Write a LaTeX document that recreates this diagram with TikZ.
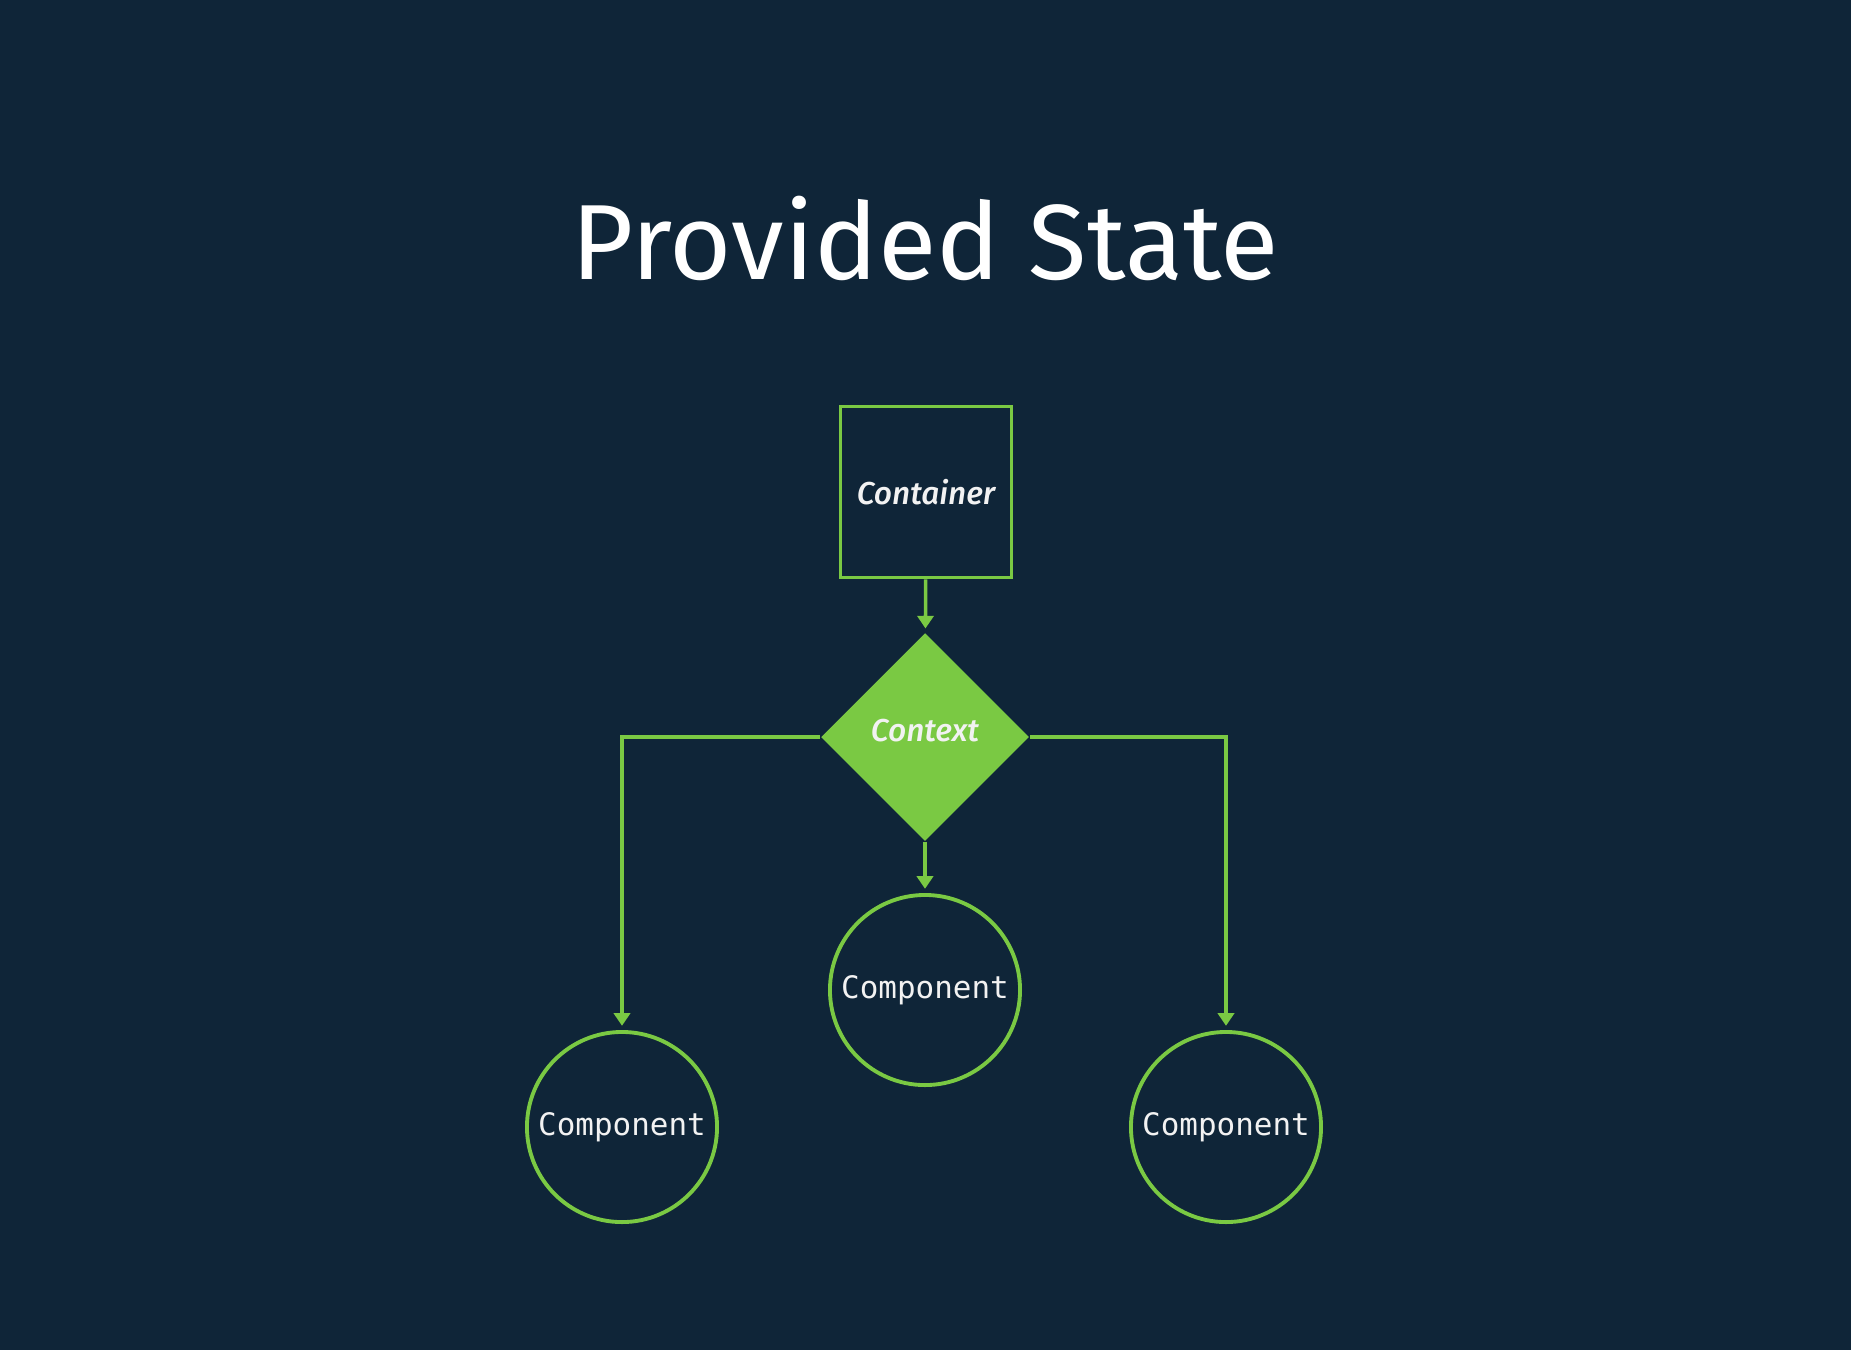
\documentclass[tikz,border=0pt]{standalone}
\usepackage{fontspec}
\setmainfont{Fira Sans}
\newfontfamily\monofont{DejaVu Sans Mono}
\newfontfamily\lblfont[ItalicFont={Fira Sans Medium Italic}]{Fira Sans}
\usetikzlibrary{shapes.geometric,arrows.meta}
\definecolor{bg}{HTML}{0F2538}
\definecolor{grn}{HTML}{7AC943}
\definecolor{txt}{HTML}{F2F2F2}
\tikzset{
  box/.style={draw=grn, line width=1pt, minimum size=1.71cm, inner sep=0pt, text=txt, font=\lblfont\itshape\fontsize{9}{11}\selectfont},
  dmd/.style={diamond, fill=grn, draw=none, minimum width=2.08cm, minimum height=2.08cm, inner sep=0pt, text=txt, font=\lblfont\itshape\fontsize{9}{11}\selectfont},
  comp/.style={circle, draw=grn, line width=1.1pt, minimum size=1.9cm, inner sep=0pt, text=txt, font=\monofont\fontsize{8.8}{10}\selectfont},
  conn/.style={draw=grn, line width=1pt, -{Triangle[length=3.6pt,width=4.6pt]}, shorten >=1.2pt}
}
\begin{document}
\begin{tikzpicture}[x=0.01cm,y=-0.01cm]
\fill[bg] (0,0) rectangle (1851,1350);
\useasboundingbox (0,0) rectangle (1851,1350);
\node[anchor=base, text=white, font=\fontsize{30.4}{36}\selectfont, inner sep=0pt] (title) at (925,279) {Provided State};
\node[box] (cont) at (926,492) {Container};
\node[dmd] (ctx) at (925,737) {\raisebox{4pt}{Context}};
\node[comp] (c2) at (925,990) {Component};
\node[comp] (c1) at (622,1127) {Component};
\node[comp] (c3) at (1226,1127) {Component};
\draw[conn] (cont) -- (ctx);
\draw[conn] (ctx) -- (c2);
\draw[conn] (ctx.west) -| (c1.north);
\draw[conn] (ctx.east) -| (c3.north);
\end{tikzpicture}
\end{document}
